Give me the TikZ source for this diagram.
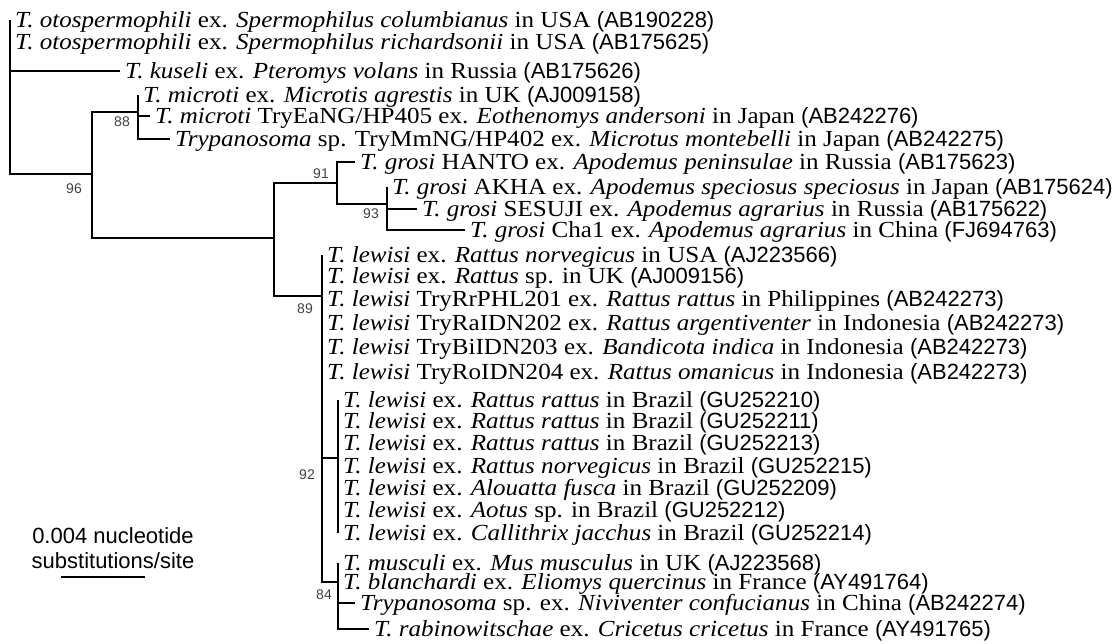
\documentclass[tikz,border=0pt]{standalone}
\usepackage{fontspec}
\setmainfont[FakeStretch=1.09]{Liberation Serif}
\newfontfamily\accfont{Liberation Sans}
\usetikzlibrary{positioning}
\newcommand{\acc}[1]{{\accfont\fontsize{22}{22}\selectfont(#1)}}

\begin{document}
\begin{tikzpicture}[x=1pt,y=-1pt,
  br/.style={black, line width=2.8pt},
  leaf/.style={anchor=west, inner sep=0pt, text height=18pt, text depth=3pt, font=\fontsize{23}{23}\selectfont},
  boot/.style={inner sep=0pt, text=black!75, font=\accfont\fontsize{14}{14}\selectfont},
  scaletext/.style={inner sep=0pt, font=\accfont\fontsize{22}{22}\selectfont}]
\useasboundingbox (0,0) rectangle (1115,644);

% internal nodes
\coordinate (root) at (10,100);
\coordinate (nA) at (92,174);
\coordinate (nM) at (138,112);
\coordinate (nB) at (274,238);
\coordinate (nC) at (337,183);
\coordinate (nD) at (387,204);
\coordinate (nE) at (322,296);
\coordinate (nF) at (338,458);
\coordinate (nG) at (338,582);

% leaf tips
\coordinate (l1) at (10,20);   \coordinate (l2) at (10,42);
\coordinate (l3) at (120,71);  \coordinate (l4) at (138,95);
\coordinate (l5) at (150,116); \coordinate (l6) at (170,139);
\coordinate (l7) at (355,162); \coordinate (l8) at (387,187);
\coordinate (l9) at (417,209); \coordinate (l10) at (465,230);
\coordinate (l11) at (322,255); \coordinate (l12) at (322,276);
\coordinate (l13) at (322,299); \coordinate (l14) at (322,323);
\coordinate (l15) at (322,347); \coordinate (l16) at (322,372);
\coordinate (l17) at (338,400); \coordinate (l18) at (338,421);
\coordinate (l19) at (338,443); \coordinate (l20) at (338,466);
\coordinate (l21) at (338,488); \coordinate (l22) at (338,510);
\coordinate (l23) at (338,533); \coordinate (l24) at (338,563);
\coordinate (l25) at (338,582); \coordinate (l26) at (355,603);
\coordinate (l27) at (369,629);

% branches
\foreach \c in {l1,l2,l3,nA} \draw[br] (root) |- (\c);
\foreach \c in {nM,nB} \draw[br] (nA) |- (\c);
\foreach \c in {l4,l5,l6} \draw[br] (nM) |- (\c);
\foreach \c in {nC,nE} \draw[br] (nB) |- (\c);
\foreach \c in {l7,nD} \draw[br] (nC) |- (\c);
\foreach \c in {l8,l9,l10} \draw[br] (nD) |- (\c);
\foreach \c in {l11,l12,l13,l14,l15,l16,nF,nG} \draw[br] (nE) |- (\c);
\foreach \c in {l17,l18,l19,l20,l21,l22,l23} \draw[br] (nF) |- (\c);
\foreach \c in {l24,l25,l26,l27} \draw[br] (nG) |- (\c);

% taxa
\node[leaf, right=5pt of l1] (t1) {\textit{T. otospermophili} ex. \textit{Spermophilus columbianus} in USA \acc{AB190228}};
\node[leaf, right=5pt of l2] (t2) {\textit{T. otospermophili} ex. \textit{Spermophilus richardsonii} in USA \acc{AB175625}};
\node[leaf, right=5pt of l3] (t3) {\textit{T. kuseli} ex. \textit{Pteromys volans} in Russia \acc{AB175626}};
\node[leaf, right=5pt of l4] (t4) {\textit{T. microti} ex. \textit{Microtis agrestis} in UK \acc{AJ009158}};
\node[leaf, right=5pt of l5] (t5) {\textit{T. microti} TryEaNG/HP405 ex. \textit{Eothenomys andersoni} in Japan \acc{AB242276}};
\node[leaf, right=5pt of l6] (t6) {\textit{Trypanosoma} sp. TryMmNG/HP402 ex. \textit{Microtus montebelli} in Japan \acc{AB242275}};
\node[leaf, right=5pt of l7] (t7) {\textit{T. grosi} HANTO ex. \textit{Apodemus peninsulae} in Russia \acc{AB175623}};
\node[leaf, right=5pt of l8] (t8) {\textit{T. grosi} AKHA ex. \textit{Apodemus speciosus speciosus} in Japan \acc{AB175624}};
\node[leaf, right=5pt of l9] (t9) {\textit{T. grosi} SESUJI ex. \textit{Apodemus agrarius} in Russia \acc{AB175622}};
\node[leaf, right=5pt of l10] (t10) {\textit{T. grosi} Cha1 ex. \textit{Apodemus agrarius} in China \acc{FJ694763}};
\node[leaf, right=5pt of l11] (t11) {\textit{T. lewisi} ex. \textit{Rattus norvegicus} in USA \acc{AJ223566}};
\node[leaf, right=5pt of l12] (t12) {\textit{T. lewisi} ex. \textit{Rattus} sp. in UK \acc{AJ009156}};
\node[leaf, right=5pt of l13] (t13) {\textit{T. lewisi} TryRrPHL201 ex. \textit{Rattus rattus} in Philippines \acc{AB242273}};
\node[leaf, right=5pt of l14] (t14) {\textit{T. lewisi} TryRaIDN202 ex. \textit{Rattus argentiventer} in Indonesia \acc{AB242273}};
\node[leaf, right=5pt of l15] (t15) {\textit{T. lewisi} TryBiIDN203 ex. \textit{Bandicota indica} in Indonesia \acc{AB242273}};
\node[leaf, right=5pt of l16] (t16) {\textit{T. lewisi} TryRoIDN204 ex. \textit{Rattus omanicus} in Indonesia \acc{AB242273}};
\node[leaf, right=5pt of l17] (t17) {\textit{T. lewisi} ex. \textit{Rattus rattus} in Brazil \acc{GU252210}};
\node[leaf, right=5pt of l18] (t18) {\textit{T. lewisi} ex. \textit{Rattus rattus} in Brazil \acc{GU252211}};
\node[leaf, right=5pt of l19] (t19) {\textit{T. lewisi} ex. \textit{Rattus rattus} in Brazil \acc{GU252213}};
\node[leaf, right=5pt of l20] (t20) {\textit{T. lewisi} ex. \textit{Rattus norvegicus} in Brazil \acc{GU252215}};
\node[leaf, right=5pt of l21] (t21) {\textit{T. lewisi} ex. \textit{Alouatta fusca} in Brazil \acc{GU252209}};
\node[leaf, right=5pt of l22] (t22) {\textit{T. lewisi} ex. \textit{Aotus} sp. in Brazil \acc{GU252212}};
\node[leaf, right=5pt of l23] (t23) {\textit{T. lewisi} ex. \textit{Callithrix jacchus} in Brazil \acc{GU252214}};
\node[leaf, right=5pt of l24] (t24) {\textit{T. musculi} ex. \textit{Mus musculus} in UK \acc{AJ223568}};
\node[leaf, right=5pt of l25] (t25) {\textit{T. blanchardi} ex. \textit{Eliomys quercinus} in France \acc{AY491764}};
\node[leaf, right=5pt of l26] (t26) {\textit{Trypanosoma} sp. ex. \textit{Niviventer confucianus} in China \acc{AB242274}};
\node[leaf, right=5pt of l27] (t27) {\textit{T. rabinowitschae} ex. \textit{Cricetus cricetus} in France \acc{AY491765}};

% bootstrap values
\node[boot, below left=10pt and 10pt of nA] (b96) {96};
\node[boot, below left=5pt and 8pt of nM] (b88) {88};
\node[boot, above left=4pt and 8pt of nC] (b91) {91};
\node[boot, below left=5pt and 8pt of nD] (b93) {93};
\node[boot, below left=8pt and 9pt of nE] (b89) {89};
\node[boot, below left=12pt and 23pt of nF] (b92) {92};
\node[boot, below left=8pt and 6pt of nG] (b84) {84};

% scale bar
\node[scaletext] (s1) at (113,536) {0.004 nucleotide};
\node[scaletext, below=8pt of s1] (s2) {substitutions/site};
\coordinate (sbl) at (61,577);
\coordinate (sbr) at (145,577);
\draw[br] (sbl) -- (sbr);
\end{tikzpicture}
\end{document}
